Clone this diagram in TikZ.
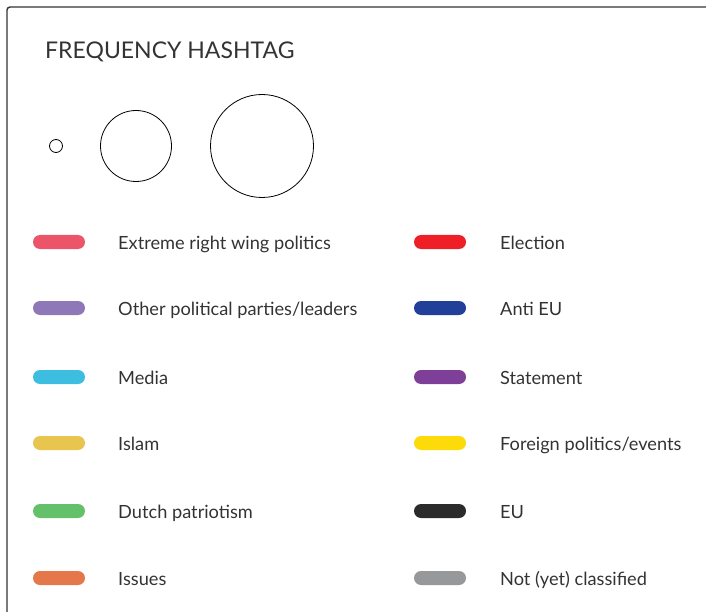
\documentclass[tikz,border=0pt]{standalone}
\usepackage{fontspec}
\setmainfont{Lato}
\usetikzlibrary{positioning}
\definecolor{ink}{RGB}{51,51,51}
\definecolor{farright}{RGB}{236,85,105}
\definecolor{otherparty}{RGB}{142,120,184}
\definecolor{media}{RGB}{61,189,224}
\definecolor{islam}{RGB}{232,197,79}
\definecolor{patriot}{RGB}{101,192,106}
\definecolor{issues}{RGB}{228,120,74}
\definecolor{election}{RGB}{238,31,39}
\definecolor{antieu}{RGB}{34,64,154}
\definecolor{statement}{RGB}{126,63,152}
\definecolor{foreign}{RGB}{253,219,11}
\definecolor{eu}{RGB}{43,43,43}
\definecolor{unclass}{RGB}{151,152,154}

\begin{document}
\begin{tikzpicture}[x=1pt, y=-1pt,
            pill/.style={rectangle, rounded corners=7pt, minimum width=52pt, minimum height=14pt, inner sep=0pt},
            label/.style={anchor=base west, inner sep=0pt, text=ink, font=\fontsize{18.2}{21}\selectfont},
            bubble/.style={circle, draw=black, line width=0.8pt, inner sep=0pt}]
            \useasboundingbox (0,0) rectangle (706,612);
            % frame, open to the right and bottom
            \draw [ink, line width=1.4pt, rounded corners=3pt] (7,640) -- (7,7) -- (740,7);
            \node [anchor=base west, inner sep=0pt, text=ink, font=\fontsize{23}{26}\selectfont] (title) at (45,59) {FREQUENCY HASHTAG};
            % size scale
            \node [bubble, minimum size=13pt] (small) at (56,146) {};
            \node [bubble, minimum size=71pt] (medium) at (136,146) {};
            \node [bubble, minimum size=103pt] (large) at (262,146) {};
            % left column
            \node [pill, fill=farright] (farrightkey) at (59,242) {};
            \node [label] (farrightlbl) at (118,249) {Extreme right wing politics};
            \node [pill, fill=otherparty] (otherpartykey) at (59,308) {};
            \node [label] (otherpartylbl) at (118,315) {Other political parties/leaders};
            \node [pill, fill=media] (mediakey) at (59,377) {};
            \node [label] (medialbl) at (118,384) {Media};
            \node [pill, fill=islam] (islamkey) at (59,443) {};
            \node [label] (islamlbl) at (118,450) {Islam};
            \node [pill, fill=patriot] (patriotkey) at (59,511) {};
            \node [label] (patriotlbl) at (118,518) {Dutch patriotism};
            \node [pill, fill=issues] (issueskey) at (59,578) {};
            \node [label] (issueslbl) at (118,585) {Issues};
            % right column
            \node [pill, fill=election] (electionkey) at (440,242) {};
            \node [label] (electionlbl) at (500,249) {Election};
            \node [pill, fill=antieu] (antieukey) at (440,308) {};
            \node [label] (antieulbl) at (500,315) {Anti EU};
            \node [pill, fill=statement] (statementkey) at (440,377) {};
            \node [label] (statementlbl) at (500,384) {Statement};
            \node [pill, fill=foreign] (foreignkey) at (440,443) {};
            \node [label] (foreignlbl) at (500,450) {Foreign politics/events};
            \node [pill, fill=eu] (eukey) at (440,511) {};
            \node [label] (eulbl) at (500,518) {EU};
            \node [pill, fill=unclass] (unclasskey) at (440,578) {};
            \node [label] (unclasslbl) at (500,585) {Not (yet) classified};
        \end{tikzpicture}
\end{document}
